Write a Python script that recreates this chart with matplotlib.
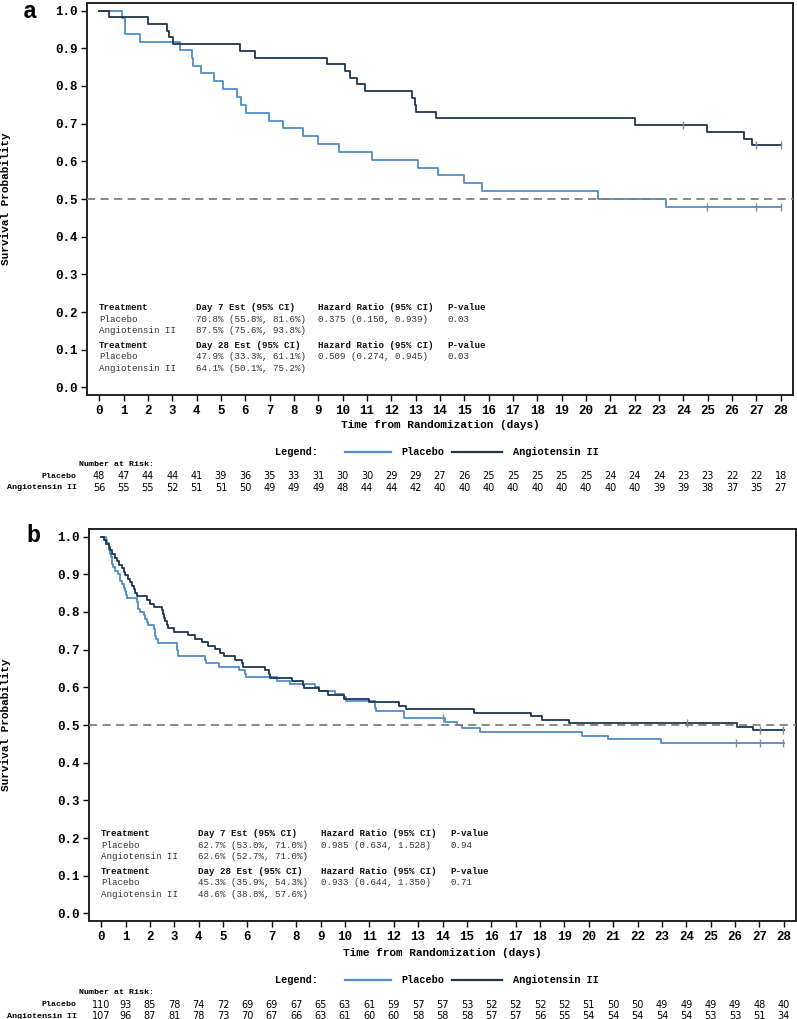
import matplotlib
matplotlib.use("Agg")
import matplotlib.pyplot as plt
from matplotlib.lines import Line2D
from matplotlib.transforms import blended_transform_factory

MONO = "Liberation Mono"
NARROW = ["Liberation Sans Narrow", "DejaVu Sans"]
PLACEBO_C = "#4F8CC9"
ANGIO_C = "#1E3550"
CENSOR_C = "#8A8A8A"

days = list(range(0, 29))

# ---------------- panel a data ----------------
a_pla_t = [0, 0.93, 1.05, 1.68, 3.33, 3.83, 3.87, 4.19, 4.73, 5.10, 5.65, 5.82, 6.03,
           6.99, 7.57, 8.39, 8.98, 9.85, 11.20, 13.10, 13.93, 14.98, 15.71, 20.50, 23.30]
a_pla_s = [1.0, 0.979, 0.938, 0.917, 0.896, 0.875, 0.854, 0.833, 0.813, 0.792, 0.771, 0.750, 0.729,
           0.708, 0.688, 0.667, 0.646, 0.625, 0.604, 0.583, 0.563, 0.542, 0.521, 0.500, 0.479]
a_ang_t = [0, 0.40, 2.00, 2.78, 2.85, 3.05, 5.80, 6.40, 9.35, 10.10, 10.30, 10.58, 10.90,
           12.84, 12.97, 13.02, 13.82, 22.00, 24.98, 26.50, 26.80]
a_ang_s = [1.0, 0.982, 0.964, 0.946, 0.929, 0.911, 0.893, 0.875, 0.857, 0.839, 0.821, 0.804, 0.786,
           0.768, 0.750, 0.732, 0.714, 0.696, 0.678, 0.660, 0.642]
a_pla_cens_t = [24.98, 27.0, 28.0]
a_pla_cens_s = [0.479, 0.479, 0.479]
a_ang_cens_t = [24.0, 27.0, 28.0]
a_ang_cens_s = [0.696, 0.642, 0.642]
a_risk_pla = [48, 47, 44, 44, 41, 39, 36, 35, 33, 31, 30, 30, 29, 29, 27, 26, 25, 25, 25, 25,
              25, 24, 24, 24, 23, 23, 22, 22, 18]
a_risk_ang = [56, 55, 55, 52, 51, 51, 50, 49, 49, 49, 48, 44, 44, 42, 40, 40, 40, 40, 40, 40,
              40, 40, 40, 39, 39, 38, 37, 35, 27]
a_table = [
    ("Treatment", "Day 7 Est (95% CI)", "Hazard Ratio (95% CI)", "P-value", True),
    ("Placebo", "70.8% (55.8%, 81.6%)", "0.375 (0.150, 0.939)", "0.03", False),
    ("Angiotensin II", "87.5% (75.6%, 93.8%)", "", "", False),
    ("Treatment", "Day 28 Est (95% CI)", "Hazard Ratio (95% CI)", "P-value", True),
    ("Placebo", "47.9% (33.3%, 61.1%)", "0.509 (0.274, 0.945)", "0.03", False),
    ("Angiotensin II", "64.1% (50.1%, 75.2%)", "", "", False),
]

# ---------------- panel b data ----------------
b_pla_t = [0, 0.18, 0.23, 0.30, 0.34, 0.37, 0.41, 0.44, 0.46, 0.50, 0.57, 0.71, 0.76, 0.78, 0.85,
           0.92, 0.96, 1.02, 1.05, 1.47, 1.49, 1.51, 1.60, 1.74, 1.81, 1.88, 1.94, 2.15, 2.20,
           2.22, 2.26, 2.35, 3.11, 3.13, 3.15, 3.17, 4.27, 4.30, 4.82, 5.64, 5.91, 5.95, 7.21,
           7.76, 8.78, 8.95, 9.61, 9.95, 10.05, 11.25, 11.28, 12.41, 12.44, 14.12, 14.60, 14.80,
           15.52, 19.73, 20.78, 22.98]
b_pla_s = [1.0, 0.991, 0.982, 0.973, 0.964, 0.955, 0.945, 0.936, 0.927, 0.918, 0.909, 0.900, 0.891,
           0.882, 0.873, 0.864, 0.855, 0.845, 0.836, 0.827, 0.818, 0.809, 0.800, 0.791, 0.782,
           0.773, 0.764, 0.755, 0.745, 0.736, 0.727, 0.718, 0.709, 0.700, 0.691, 0.682, 0.673,
           0.664, 0.655, 0.645, 0.636, 0.627, 0.618, 0.609, 0.600, 0.591, 0.582, 0.573, 0.564,
           0.545, 0.536, 0.527, 0.518, 0.509, 0.500, 0.491, 0.481, 0.472, 0.463, 0.453]
b_ang_t = [0, 0.12, 0.20, 0.30, 0.37, 0.45, 0.57, 0.65, 0.75, 0.85, 0.95, 0.99, 1.12, 1.20, 1.26,
           1.33, 1.40, 1.46, 1.88, 2.01, 2.15, 2.49, 2.53, 2.56, 2.63, 2.70, 2.75, 2.97, 3.58,
           3.86, 4.13, 4.40, 4.68, 4.88, 5.02, 5.50, 5.78, 5.82, 6.73, 6.87, 6.94, 7.83, 8.27,
           8.31, 8.92, 9.30, 9.95, 10.97, 12.20, 12.50, 15.31, 17.64, 18.09, 19.18, 26.09, 26.74]
b_ang_s = [1.0, 0.991, 0.981, 0.972, 0.963, 0.953, 0.944, 0.935, 0.925, 0.916, 0.907, 0.897, 0.888,
           0.879, 0.869, 0.860, 0.850, 0.841, 0.832, 0.822, 0.813, 0.804, 0.794, 0.785, 0.776,
           0.766, 0.757, 0.748, 0.738, 0.729, 0.720, 0.710, 0.701, 0.692, 0.682, 0.673, 0.664,
           0.654, 0.645, 0.636, 0.626, 0.617, 0.607, 0.598, 0.589, 0.579, 0.570, 0.561, 0.551,
           0.542, 0.533, 0.523, 0.514, 0.505, 0.495, 0.486]
b_pla_cens_t = [14.03, 26.03, 27.02, 27.98]
b_pla_cens_s = [0.518, 0.453, 0.453, 0.453]
b_ang_cens_t = [24.04, 27.02, 27.98]
b_ang_cens_s = [0.505, 0.486, 0.486]
b_risk_pla = [110, 93, 85, 78, 74, 72, 69, 69, 67, 65, 63, 61, 59, 57, 57, 53, 52, 52, 52, 52,
              51, 50, 50, 49, 49, 49, 49, 48, 40]
b_risk_ang = [107, 96, 87, 81, 78, 73, 70, 67, 66, 63, 61, 60, 60, 58, 58, 58, 57, 57, 56, 55,
              54, 54, 54, 54, 54, 53, 53, 51, 34]
b_table = [
    ("Treatment", "Day 7 Est (95% CI)", "Hazard Ratio (95% CI)", "P-value", True),
    ("Placebo", "62.7% (53.0%, 71.0%)", "0.985 (0.634, 1.528)", "0.94", False),
    ("Angiotensin II", "62.6% (52.7%, 71.0%)", "", "", False),
    ("Treatment", "Day 28 Est (95% CI)", "Hazard Ratio (95% CI)", "P-value", True),
    ("Placebo", "45.3% (35.9%, 54.3%)", "0.933 (0.644, 1.350)", "0.71", False),
    ("Angiotensin II", "48.6% (38.8%, 57.6%)", "", "", False),
]

table_y = [0.211, 0.181, 0.151, 0.111, 0.081, 0.051]
table_x = [0.0, 3.98, 9.0, 14.32]

W, H = 797, 1019
fig = plt.figure(figsize=(W / 100, H / 100), dpi=100)


def fy(py):
    return 1 - py / H


def draw_panel(rect, letter, letter_pos, pla, ang, pla_c, ang_c, table, risk_pla, risk_ang, rows_y):
    ax = fig.add_axes(rect)
    ax.set_xlim(-0.5, 28.5)
    ax.set_ylim(-0.02, 1.02)

    ax.step(pla[0] + [28.0], pla[1] + [pla[1][-1]], where="post", color=PLACEBO_C, lw=1.3, zorder=3)
    ax.step(ang[0] + [28.0], ang[1] + [ang[1][-1]], where="post", color=ANGIO_C, lw=1.3, zorder=3)
    ax.plot(pla_c[0], pla_c[1], ls="none", marker="|", ms=6, mew=1.0, color=CENSOR_C, zorder=4)
    ax.plot(ang_c[0], ang_c[1], ls="none", marker="|", ms=6, mew=1.0, color=CENSOR_C, zorder=4)
    ax.axhline(0.5, color="#808080", lw=1.3, ls=(0, (4.5, 3)), zorder=5)

    ax.set_xticks(days)
    ax.set_yticks([i / 10 for i in range(11)])
    ax.set_xticklabels([str(d) for d in days], fontfamily=MONO, fontweight="bold", fontsize=9)
    ax.set_yticklabels([f"{i / 10:.1f}" for i in range(11)], fontfamily=MONO, fontweight="bold", fontsize=9)
    ax.tick_params(direction="out", length=4, width=1.0, color="black", pad=3)
    for s in ax.spines.values():
        s.set_linewidth(1.4)
        s.set_color("#222222")

    # axis titles placed where the reference has them
    bb = ax.get_position()
    fig.text(6 / W, bb.y0 + bb.height * 0.5, "Survival Probability", fontfamily=MONO,
             fontweight="bold", fontsize=8, rotation=90, ha="center", va="center")
    fig.text(bb.x0 + bb.width * 0.5, fy(rows_y[0] - 27), "Time from Randomization (days)",
             fontfamily=MONO, fontweight="bold", fontsize=8, ha="center", va="center")

    for row, yv in zip(table, table_y):
        bold = row[4]
        for txt, xv in zip(row[:4], table_x):
            ax.text(xv, yv, txt, fontfamily=MONO, fontsize=6.6,
                    fontweight="bold" if bold else "normal", color="#111111" if bold else "#333333",
                    va="center", ha="left")

    fig.text(letter_pos[0] / W, fy(letter_pos[1]), letter, fontfamily=MONO, fontweight="bold",
             fontsize=17, ha="center", va="top")

    # legend row
    ly = fy(rows_y[0])
    fig.text(296 / W, ly, "Legend:", fontfamily=MONO, fontweight="bold", fontsize=7.4, ha="center", va="center")
    fig.add_artist(Line2D([345 / W, 391 / W], [ly, ly], color=PLACEBO_C, lw=1.6))
    fig.text(401 / W, ly, "Placebo", fontfamily=MONO, fontweight="bold", fontsize=7.4, va="center")
    fig.add_artist(Line2D([452 / W, 502 / W], [ly, ly], color=ANGIO_C, lw=1.6))
    fig.text(513 / W, ly, "Angiotensin II", fontfamily=MONO, fontweight="bold", fontsize=7.4, va="center")

    # number at risk
    fig.text(79 / W, fy(rows_y[1]), "Number at Risk:", fontfamily=MONO, fontweight="bold", fontsize=6,
             va="center")
    fig.text(77 / W, fy(rows_y[2]), "Placebo", fontfamily=MONO, fontweight="bold", fontsize=6,
             va="center", ha="right")
    fig.text(77 / W, fy(rows_y[3]), "Angiotensin II", fontfamily=MONO, fontweight="bold", fontsize=6,
             va="center", ha="right")
    tr = blended_transform_factory(ax.transData, fig.transFigure)
    for d, rp, ra in zip(days, risk_pla, risk_ang):
        ax.text(d, fy(rows_y[2]), str(rp), transform=tr, family=NARROW, fontsize=7, ha="center",
                va="center", clip_on=False)
        ax.text(d, fy(rows_y[3]), str(ra), transform=tr, family=NARROW, fontsize=7, ha="center",
                va="center", clip_on=False)
    return ax


draw_panel([87 / W, fy(395), (793 - 87) / W, 392 / H], "a", (30, 0.5),
           (a_pla_t, a_pla_s), (a_ang_t, a_ang_s),
           (a_pla_cens_t, a_pla_cens_s), (a_ang_cens_t, a_ang_cens_s),
           a_table, a_risk_pla, a_risk_ang, (452, 464, 476, 488))

draw_panel([89 / W, fy(921), (796 - 89) / W, 392 / H], "b", (33, 524),
           (b_pla_t, b_pla_s), (b_ang_t, b_ang_s),
           (b_pla_cens_t, b_pla_cens_s), (b_ang_cens_t, b_ang_cens_s),
           b_table, b_risk_pla, b_risk_ang, (980, 993, 1005, 1016))

fig.savefig("out.png", dpi=100)
